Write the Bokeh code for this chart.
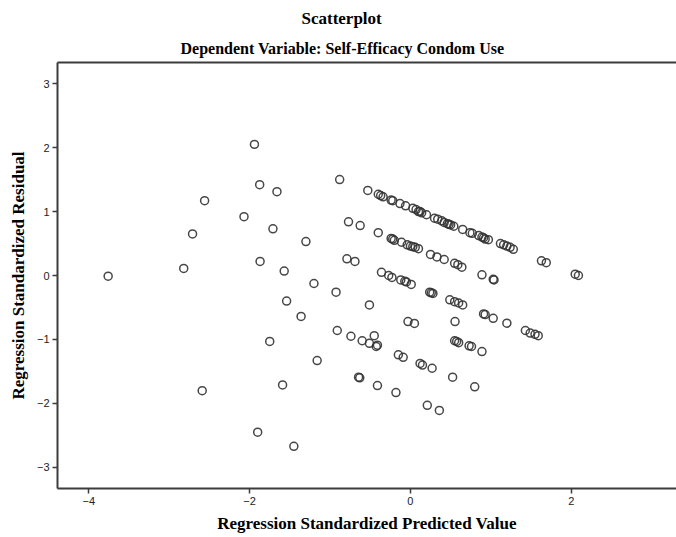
from bokeh.plotting import figure
from bokeh.models import Range1d, LinearAxis, FixedTicker, Title, ColumnDataSource
from bokeh.embed import file_html
from bokeh.resources import INLINE

# Regression standardized predicted value (x) and standardized residual (y)
pred_left = [-3.76, -2.82, -2.71, -2.56, -2.59, -2.07, -1.94, -1.875, -1.90, -1.87, -1.75, -1.71,
             -1.66, -1.59, -1.57, -1.54, -1.45, -1.36, -1.30, -1.20, -1.16, -0.925, -0.91, -0.88]
resid_left = [-0.01, 0.11, 0.65, 1.17, -1.80, 0.92, 2.05, 1.42, -2.45, 0.22, -1.03, 0.73,
              1.31, -1.71, 0.07, -0.40, -2.67, -0.64, 0.53, -0.125, -1.33, -0.26, -0.86, 1.50]

pred_a = [-0.53, -0.40, -0.37, -0.34, -0.24, -0.22, -0.13, -0.06, 0.03, 0.07, 0.10, 0.12, 0.14,
          0.20, 0.30, 0.34, 0.39, 0.42, 0.46, 0.48, 0.50, 0.54, 0.65, 0.74, 0.77, 0.85, 0.89,
          0.91, 0.93, 0.97, 1.12, 1.16, 1.20, 1.24, 1.28, 1.63, 1.69, 2.05, 2.09]
resid_a = [1.33, 1.27, 1.25, 1.23, 1.18, 1.17, 1.125, 1.09, 1.05, 1.03, 1.00, 1.00, 0.98,
           0.95, 0.895, 0.88, 0.855, 0.83, 0.81, 0.80, 0.79, 0.77, 0.72, 0.67, 0.66, 0.625, 0.60,
           0.59, 0.57, 0.56, 0.50, 0.48, 0.46, 0.44, 0.41, 0.23, 0.20, 0.02, 0.00]

pred_b = [-0.77, -0.625, -0.40, -0.24, -0.22, -0.20, -0.11, -0.04, 0.00, 0.03, 0.06, 0.10, 0.25,
          0.33, 0.42, 0.55, 0.59, 0.64, 0.89, 1.03, 1.04]
resid_b = [0.84, 0.78, 0.67, 0.58, 0.57, 0.55, 0.52, 0.48, 0.46, 0.45, 0.44, 0.42, 0.33,
           0.29, 0.25, 0.19, 0.17, 0.13, 0.01, -0.06, -0.07]

pred_c = [-0.79, -0.69, -0.36, -0.27, -0.23, -0.12, -0.07, -0.05, 0.01, 0.24, 0.26, 0.28, 0.49,
          0.55, 0.60, 0.65, 0.91, 0.93, 1.03, 1.20, 1.43, 1.49, 1.55, 1.59]
resid_c = [0.26, 0.22, 0.05, 0.00, -0.03, -0.07, -0.09, -0.10, -0.14, -0.26, -0.27, -0.28, -0.38,
           -0.41, -0.43, -0.46, -0.60, -0.61, -0.67, -0.745, -0.86, -0.90, -0.92, -0.94]

pred_d = [-0.51, -0.03, 0.05, 0.555, 0.55, 0.575, 0.60, 0.73, 0.76, 0.89]
resid_d = [-0.46, -0.72, -0.75, -0.72, -1.02, -1.03, -1.05, -1.10, -1.11, -1.19]

pred_e = [-0.74, -0.60, -0.51, -0.45, -0.425, -0.41, -0.15, -0.09, 0.12, 0.15, 0.27]
resid_e = [-0.95, -1.02, -1.06, -0.94, -1.11, -1.09, -1.24, -1.28, -1.375, -1.40, -1.45]

pred_f = [-0.645, -0.63, -0.41, -0.18, 0.525, 0.80, 0.21, 0.36]
resid_f = [-1.59, -1.60, -1.72, -1.83, -1.59, -1.74, -2.03, -2.11]

x_ticks = [-4, -2, 0, 2]
y_ticks = [-3, -2, -1, 0, 1, 2, 3]

title_text = "Scatterplot"
subtitle_text = "Dependent Variable: Self-Efficacy Condom Use"
x_label = "Regression Standardized Predicted Value"
y_label = "Regression Standardized Residual"

pred = pred_left + pred_a + pred_b + pred_c + pred_d + pred_e + pred_f
resid = resid_left + resid_a + resid_b + resid_c + resid_d + resid_e + resid_f
src = ColumnDataSource(data=dict(x=pred, y=resid))

AX = "#3c3c3c"
SERIF = "Liberation Serif"
SANS = "Liberation Sans"

p = figure(width=676, height=537, output_backend="svg", toolbar_location=None,
           x_range=Range1d(-4.39, 3.31), y_range=Range1d(-3.33, 3.33),
           min_border_left=57, min_border_right=0, min_border_bottom=49, min_border_top=62,
           background_fill_color="white", border_fill_color="white")
p.title.visible = False
p.outline_line_color = None
p.grid.visible = False

for ax in (p.xaxis, p.yaxis):
    ax.axis_line_color = AX
    ax.axis_line_width = 2
    ax.major_tick_line_color = AX
    ax.major_tick_line_width = 1.5
    ax.major_tick_in = 0
    ax.major_tick_out = 5
    ax.minor_tick_line_color = None
    ax.major_label_text_font = SANS
    ax.major_label_text_font_size = "11px"
    ax.major_label_text_color = "#222222"
    ax.axis_label_text_font = SERIF
    ax.axis_label_text_font_style = "bold"
    ax.axis_label_text_font_size = "17px"
    ax.axis_label_text_color = "black"

p.xaxis.ticker = FixedTicker(ticks=x_ticks)
p.yaxis.ticker = FixedTicker(ticks=y_ticks)
p.xaxis.axis_label = x_label
p.yaxis.axis_label = y_label
p.xaxis.major_label_standoff = 3
p.xaxis.axis_label_standoff = 6
p.yaxis.major_label_standoff = 3
p.yaxis.axis_label_standoff = 6

top_axis = LinearAxis(ticker=FixedTicker(ticks=[]), axis_line_color=AX, axis_line_width=2,
                      major_tick_line_color=None, minor_tick_line_color=None,
                      major_label_text_font_size="0px")
p.add_layout(top_axis, "above")

p.add_layout(Title(text=subtitle_text, align="left", offset=123, text_font=SERIF,
                   text_font_style="bold", text_font_size="16px", text_color="black",
                   standoff=12), "above")
p.add_layout(Title(text=title_text, align="left", offset=244, text_font=SERIF,
                   text_font_style="bold", text_font_size="17px", text_color="black",
                   standoff=8), "above")

p.scatter("x", "y", source=src, marker="circle", size=8, fill_color=None,
          line_color="#333333", line_width=1.5, line_alpha=0.9)

open("out.html", "w").write(file_html(p, INLINE))
